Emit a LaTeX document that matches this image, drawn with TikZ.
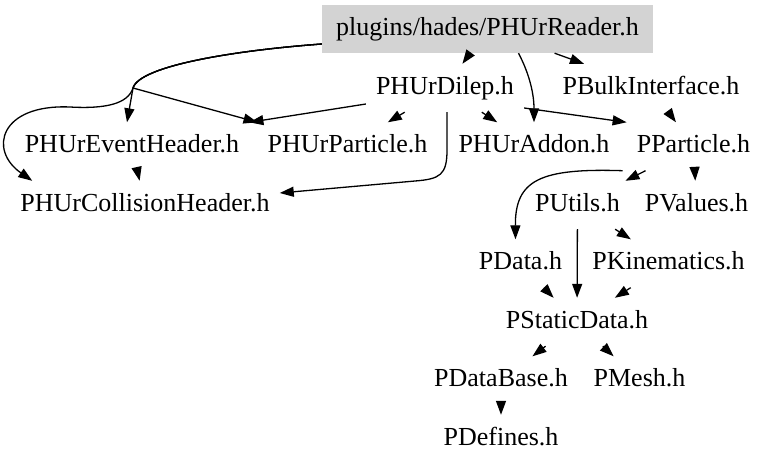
\documentclass[tikz,border=0pt]{standalone}
\usepackage{fontspec}
\newfontfamily\gvfont{Liberation Serif}
\usetikzlibrary{arrows.meta}
\definecolor{boxgray}{RGB}{211,211,211}
\begin{document}
\begin{tikzpicture}[x=1pt,y=-1pt,
  file/.style={inner xsep=10pt, inner ysep=0pt, minimum height=48pt,
    text height=18pt, text depth=6pt, font=\gvfont\fontsize{26pt}{30pt}\selectfont},
  edge/.style={line width=1.3pt, -{Triangle[length=14pt,width=10pt]}}]
\useasboundingbox (0,0) rectangle (768,469);
\node[file, fill=boxgray, minimum width=331pt] (reader) at (487.5,29) {plugins/hades/PHUrReader.h};
\node[file] (dilep) at (445,88) {PHUrDilep.h};
\node[file] (bulk) at (651,88) {PBulkInterface.h};
\node[file] (evh) at (132,146.5) {PHUrEventHeader.h};
\node[file] (hpart) at (347.5,146.5) {PHUrParticle.h};
\node[file] (addon) at (534,146.5) {PHUrAddon.h};
\node[file] (ppart) at (693.5,146.5) {PParticle.h};
\node[file] (coll) at (145,205) {PHUrCollisionHeader.h};
\node[file] (utils) at (577.5,205) {PUtils.h};
\node[file] (values) at (696.5,205) {PValues.h};
\node[file] (pdata) at (520.5,263.5) {PData.h};
\node[file] (kin) at (668.5,263.5) {PKinematics.h};
\node[file] (static) at (577,322) {PStaticData.h};
\node[file] (dbase) at (501,380.5) {PDataBase.h};
\node[file] (mesh) at (639.5,380.5) {PMesh.h};
\node[file] (defines) at (501,439) {PDefines.h};
\coordinate (split) at (133,88);
% from reader
\draw[edge] (reader) -- (dilep);
\draw[edge] (reader) -- (bulk);
\draw[edge] ([xshift=31pt]reader.south) .. controls (530,75) and (534,95) .. (addon.north);
\draw[edge] ([yshift=-15pt]reader.west) .. controls (240,50) and (140,65) .. (split) -- ([xshift=-5pt]evh.north);
\draw[edge] ([yshift=-15pt]reader.west) .. controls (240,50) and (140,65) .. (split) -- (hpart.north west);
\draw[edge] ([yshift=-15pt]reader.west) .. controls (240,50) and (140,65) .. (split)
  .. controls (128,104) and (105,109) .. (70,107)
  .. controls (0,104) and (-12,150) .. ([xshift=22pt]coll.north west);
% from dilep
\draw[edge] (dilep) -- (hpart);
\draw[edge] (dilep) -- (addon);
\draw[edge] ([yshift=-16pt]dilep.west) -- (evh.north east);
\draw[edge] ([xshift=2pt]dilep.south) -- (447,150) .. controls (447,175) and (440,179) .. (415,181) -- ([yshift=12pt]coll.east);
\draw[edge] ([yshift=-20pt]dilep.east) -- (ppart.north west);
% others
\draw[edge] (bulk) -- (ppart);
\draw[edge] (evh) -- (coll);
\draw[edge] (ppart) -- (utils);
\draw[edge] (ppart) -- (values);
\draw[edge] ([xshift=-4pt]ppart.south west) .. controls (540,168) and (515,180) .. ([xshift=-5pt]pdata.north);
\draw[edge] (utils) -- (static);
\draw[edge] (utils) -- (kin);
\draw[edge] (pdata) -- (static);
\draw[edge] (kin) -- (static);
\draw[edge] (static) -- (dbase);
\draw[edge] (static) -- (mesh);
\draw[edge] (dbase) -- (defines);
\end{tikzpicture}
\end{document}
